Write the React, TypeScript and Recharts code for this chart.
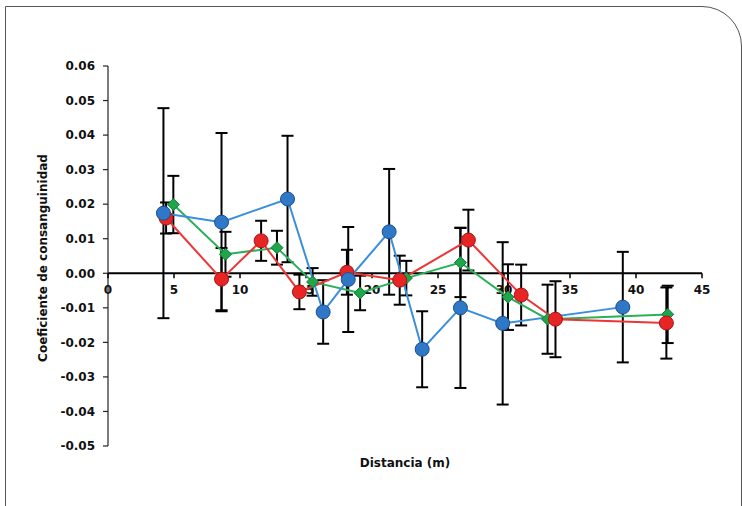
import React from 'react';
import { ScatterChart, Scatter, XAxis, YAxis, ErrorBar, ReferenceLine } from 'recharts';

const xTicks = [0, 5, 10, 15, 20, 25, 30, 35, 40, 45];
const yTicks = [-0.05, -0.04, -0.03, -0.02, -0.01, 0, 0.01, 0.02, 0.03, 0.04, 0.05, 0.06];

const blue = [
  { x: 4.2, y: 0.0174, e: 0.0304 },
  { x: 8.6, y: 0.0148, e: 0.0258 },
  { x: 13.6, y: 0.0215, e: 0.0183 },
  { x: 16.3, y: -0.0112, e: 0.0092 },
  { x: 18.2, y: -0.0018, e: 0.0152 },
  { x: 21.3, y: 0.012, e: 0.0182 },
  { x: 23.8, y: -0.022, e: 0.011 },
  { x: 26.7, y: -0.01, e: 0.0232 },
  { x: 29.9, y: -0.0145, e: 0.0235 },
  { x: 39.0, y: -0.0098, e: 0.016 },
];

const red = [
  { x: 4.4, y: 0.016, e: 0.0045 },
  { x: 8.6, y: -0.0017, e: 0.009 },
  { x: 11.6, y: 0.0094, e: 0.0058 },
  { x: 14.5, y: -0.0054, e: 0.005 },
  { x: 18.1, y: 0.0003, e: 0.0065 },
  { x: 22.1, y: -0.002, e: 0.0071 },
  { x: 27.3, y: 0.0096, e: 0.0088 },
  { x: 31.3, y: -0.0063, e: 0.0088 },
  { x: 33.9, y: -0.0133, e: 0.011 },
  { x: 42.3, y: -0.0144, e: 0.0103 },
];

const green = [
  { x: 4.95, y: 0.0199, e: 0.0083 },
  { x: 8.9, y: 0.0055, e: 0.0065 },
  { x: 12.8, y: 0.0074, e: 0.0049 },
  { x: 15.5, y: -0.0025, e: 0.004 },
  { x: 19.1, y: -0.0057, e: 0.005 },
  { x: 22.6, y: -0.0014, e: 0.005 },
  { x: 26.7, y: 0.0031, e: 0.01 },
  { x: 30.3, y: -0.0069, e: 0.0095 },
  { x: 33.3, y: -0.0133, e: 0.01 },
  { x: 42.4, y: -0.0119, e: 0.0083 },
];

const axisTickData = xTicks.map((t) => ({ x: t, y: 0 }));

const FONT = '"DejaVu Sans", sans-serif';

const Empty = () => <g />;

const makeCircle = (fill: string, stroke: string) => (props: any) => {
  const { cx, cy } = props;
  if (cx == null || cy == null) return <g />;
  return <circle cx={cx} cy={cy} r={7} fill={fill} stroke={stroke} strokeWidth={1} />;
};

const Diamond = (props: any) => {
  const { cx, cy } = props;
  if (cx == null || cy == null) return <g />;
  const s = 6;
  return (
    <path
      d={`M${cx},${cy - s} L${cx + s},${cy} L${cx},${cy + s} L${cx - s},${cy} Z`}
      fill="#1fa64c"
      stroke="#137a35"
      strokeWidth={1}
    />
  );
};

const AxisTick = (props: any) => {
  const { cx, cy, payload } = props;
  if (cx == null || cy == null) return <g />;
  return (
    <g>
      <line x1={cx} y1={cy} x2={cx} y2={cy + 5} stroke="#000" strokeWidth={1.5} />
      <text
        x={cx}
        y={cy + 21}
        textAnchor="middle"
        fontFamily={FONT}
        fontWeight="bold"
        fontSize={12}
        fill="#111"
      >
        {payload && payload.x != null ? payload.x : ''}
      </text>
    </g>
  );
};

const YTitle = () => (
  <text
    x={43}
    y={258}
    transform="rotate(-90 43 258)"
    textAnchor="middle"
    dominantBaseline="central"
    fontFamily={FONT}
    fontWeight="bold"
    fontSize={12}
    fill="#111"
  >
    Coeficiente de consanguinidad
  </text>
);

export default function App() {
  return (
    <div
      style={{
        position: 'absolute',
        left: 0,
        top: 0,
        width: 742,
        height: 506,
        overflow: 'hidden',
        background: '#fff',
      }}
    >
      <div
        style={{
          position: 'absolute',
          left: 5,
          top: 6,
          width: 737,
          height: 620,
          boxSizing: 'border-box',
          border: '1.5px solid #555',
          borderTopRightRadius: 40,
        }}
      />
      <div style={{ position: 'absolute', left: 0, top: 0 }}>
        <ScatterChart width={742} height={506} margin={{ top: 66, right: 40, bottom: 60, left: 60 }}>
          <XAxis type="number" dataKey="x" domain={[0, 45]} ticks={xTicks} hide />
          <YAxis
            type="number"
            dataKey="y"
            domain={[-0.05, 0.06]}
            ticks={yTicks}
            width={48}
            tickSize={5}
            tickMargin={8}
            tickFormatter={(v: number) => v.toFixed(2)}
            axisLine={{ stroke: '#222', strokeWidth: 1.2 }}
            tickLine={{ stroke: '#222', strokeWidth: 1.2 }}
            tick={{ fontFamily: FONT, fontWeight: 'bold', fontSize: 12, fill: '#111' }}
            label={{ content: () => <YTitle /> }}
          />
          <ReferenceLine y={0} stroke="#000" strokeWidth={2} />
          <Scatter
            data={axisTickData}
            shape={AxisTick}
            isAnimationActive={false}
          />
          <Scatter
            data={green}
            line={{ stroke: '#2bb05a', strokeWidth: 2 }}
            lineJointType="linear"
            shape={Empty}
            isAnimationActive={false}
          >
            <ErrorBar dataKey="e" direction="y" width={6} stroke="#000" strokeWidth={2} isAnimationActive={false} />
          </Scatter>
          <Scatter
            data={red}
            line={{ stroke: '#ee3535', strokeWidth: 2 }}
            lineJointType="linear"
            shape={Empty}
            isAnimationActive={false}
          >
            <ErrorBar dataKey="e" direction="y" width={6} stroke="#000" strokeWidth={2} isAnimationActive={false} />
          </Scatter>
          <Scatter
            data={blue}
            line={{ stroke: '#3a8fdb', strokeWidth: 2 }}
            lineJointType="linear"
            shape={Empty}
            isAnimationActive={false}
          >
            <ErrorBar dataKey="e" direction="y" width={6} stroke="#000" strokeWidth={2} isAnimationActive={false} />
          </Scatter>
          <Scatter data={green} shape={Diamond} isAnimationActive={false} />
          <Scatter data={red} shape={makeCircle('#e82525', '#a51515')} isAnimationActive={false} />
          <Scatter data={blue} shape={makeCircle('#2f78c8', '#1d4f8e')} isAnimationActive={false} />
        </ScatterChart>
      </div>
      <div
        style={{
          position: 'absolute',
          left: 305,
          top: 456,
          width: 200,
          textAlign: 'center',
          fontFamily: FONT,
          fontWeight: 'bold',
          fontSize: 12,
          color: '#111',
        }}
      >
        Distancia (m)
      </div>
    </div>
  );
}
